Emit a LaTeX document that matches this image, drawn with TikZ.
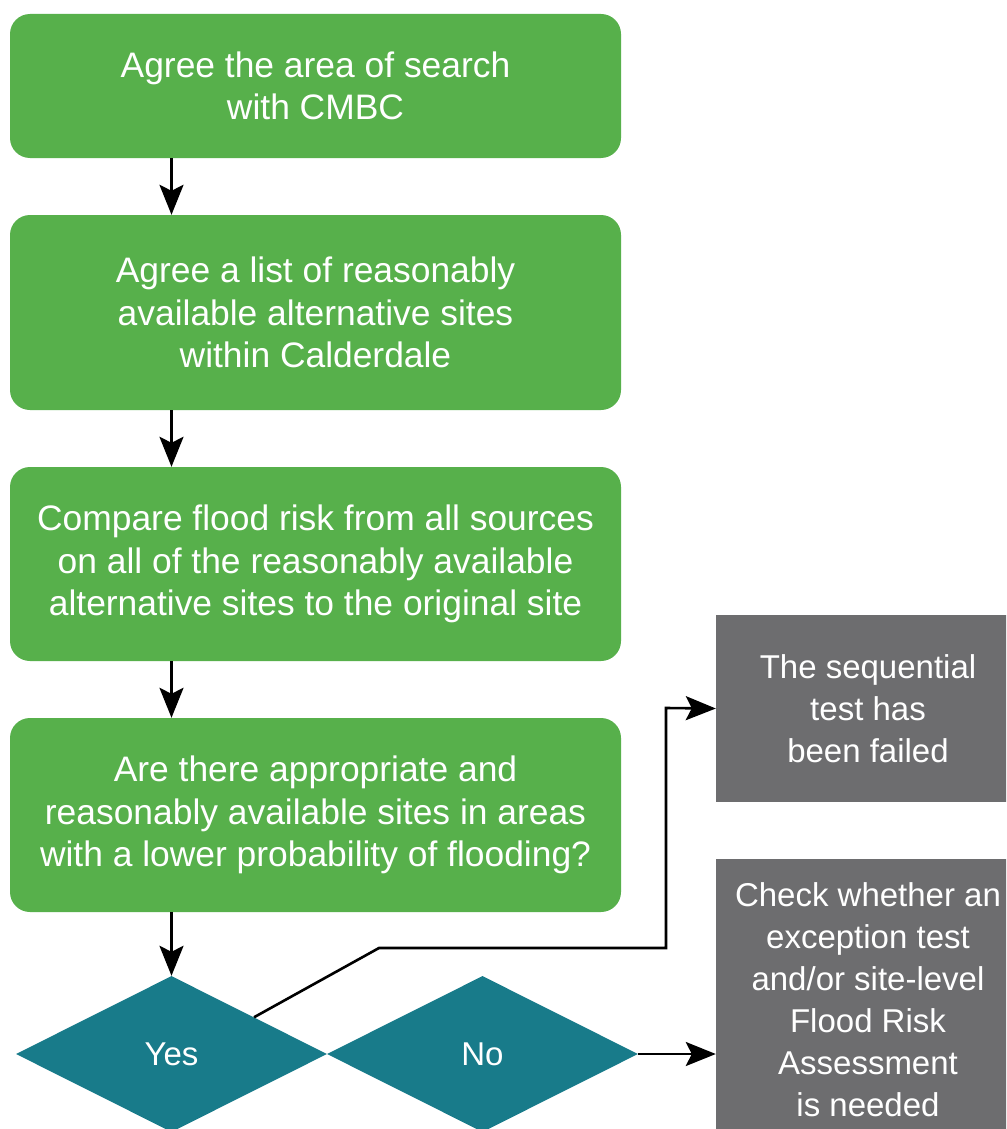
\documentclass[tikz,border=0pt]{standalone}
\usepackage{fontspec}
\setmainfont{Liberation Sans}
\usetikzlibrary{shapes.geometric,arrows.meta}
\definecolor{boxgreen}{RGB}{87,176,75}
\definecolor{diateal}{RGB}{24,123,138}
\definecolor{boxgrey}{RGB}{109,109,111}
\begin{document}
\begin{tikzpicture}[x=1pt,y=-1pt,
  txt/.style={text=white, align=center, inner sep=0pt, font=\fontsize{33}{42}\selectfont},
  gbox/.style={txt, fill=boxgreen, rounded corners=20pt, minimum width=611pt, font=\fontsize{35.4}{42.5}\selectfont},
  greybox/.style={txt, fill=boxgrey, minimum width=304pt},
  dia/.style={txt, diamond, fill=diateal, minimum width=311pt, minimum height=156pt},
  conn/.style={draw=black, line width=2.6pt, -{Stealth[length=30pt,width=24pt,inset=6pt]}},
  plain/.style={draw=black, line width=2.5pt}]
\clip (0,0) rectangle (1006,1129);
\fill[white] (0,0) rectangle (1006,1129);

\node[gbox, minimum height=144pt] (s1) at (315.5,86) {Agree the area of search\\with CMBC};
\node[gbox, minimum height=195pt] (s2) at (315.5,312.5) {Agree a list of reasonably\\available alternative sites\\within Calderdale};
\node[gbox, minimum height=194pt] (s3) at (315.5,564) {Compare flood risk from all sources\\on all of the reasonably available\\alternative sites to the original site};
\node[gbox, minimum height=194pt] (s4) at (315.5,815) {Are there appropriate and\\reasonably available sites in areas\\with a lower probability of flooding?};

\node[dia] (yes) at (171.5,1054) {Yes};
\node[dia] (no) at (482.5,1054) {No};

\node[greybox, minimum height=187pt] (failed) at (868,708.5) {The sequential\\test has\\been failed};
\node[greybox, minimum height=281pt] (check) at (868,999.5) {Check whether an\\exception test\\and/or site-level\\Flood Risk\\Assessment\\is needed};

\draw[conn] (s1.south -| yes.north) -- (s2.north -| yes.north);
\draw[conn] (s2.south -| yes.north) -- (s3.north -| yes.north);
\draw[conn] (s3.south -| yes.north) -- (s4.north -| yes.north);
\draw[conn] (s4.south -| yes.north) -- (yes.north);

\coordinate (k1) at (379,948);
\coordinate (k2) at (666,948);
\coordinate (k3) at (666,708);
\draw[conn, line join=miter] (yes.24) -- (k1) -- (k2) -- (k3) -- (failed.west);
\draw[conn] (no.east) -- (no.east -| check.west);
\end{tikzpicture}
\end{document}
